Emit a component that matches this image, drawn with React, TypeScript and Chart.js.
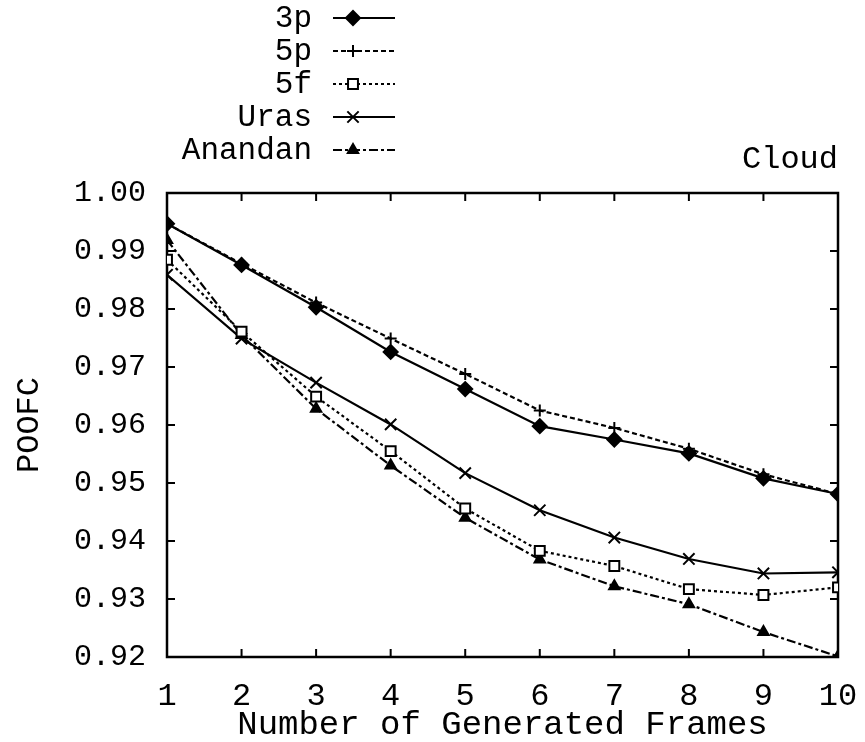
import React, { useEffect, useRef } from 'react';
import { Chart, registerables } from 'chart.js';
import { drawPoint } from 'chart.js/helpers';

Chart.register(...registerables);

const FONT = "'Liberation Mono', 'DejaVu Sans Mono', monospace";

const frames = [1, 2, 3, 4, 5, 6, 7, 8, 9, 10];
const yTickValues = [0.92, 0.93, 0.94, 0.95, 0.96, 0.97, 0.98, 0.99, 1.0];
const chartTitle = 'Cloud';
const xTitle = 'Number of Generated Frames';
const yTitle = 'POOFC';

const s3p = [0.9947, 0.9876, 0.9803, 0.9726, 0.9662, 0.9598, 0.9575, 0.9551, 0.9508, 0.9481];
const s5p = [0.9947, 0.9878, 0.9811, 0.9749, 0.9688, 0.9625, 0.9595, 0.9559, 0.9515, 0.9481];
const s5f = [0.9885, 0.9761, 0.9649, 0.9555, 0.9456, 0.9383, 0.9357, 0.9317, 0.9307, 0.9320];
const sUras = [0.9859, 0.9749, 0.9673, 0.9601, 0.9517, 0.9453, 0.9406, 0.9369, 0.9344, 0.9346];
const sAnandan = [0.9919, 0.9755, 0.9628, 0.9530, 0.9440, 0.9368, 0.9322, 0.9291, 0.9243, 0.9201];

const toPoints = (vals: number[]) => vals.map((v, i) => ({ x: frames[i], y: v }));

const framePlugin = {
  id: 'frameTicks',
  beforeDatasetsDraw(chart: any) {
    const { ctx, chartArea, scales } = chart;
    const { left, right, top, bottom } = chartArea;
    const x = scales.x;
    const y = scales.y;
    ctx.save();
    ctx.strokeStyle = '#000';
    ctx.setLineDash([]);
    ctx.lineWidth = 2.5;
    ctx.strokeRect(left, top, right - left, bottom - top);
    const tl = 8;
    ctx.lineWidth = 2;
    ctx.beginPath();
    for (const v of frames) {
      const px = x.getPixelForValue(v);
      ctx.moveTo(px, bottom);
      ctx.lineTo(px, bottom - tl);
      ctx.moveTo(px, top);
      ctx.lineTo(px, top + tl);
    }
    for (const v of yTickValues) {
      const py = y.getPixelForValue(v);
      ctx.moveTo(left, py);
      ctx.lineTo(left + tl, py);
      ctx.moveTo(right, py);
      ctx.lineTo(right - tl, py);
    }
    ctx.stroke();
    ctx.restore();
  },
};

const legendPlugin = {
  id: 'sideLegend',
  afterDraw(chart: any) {
    const ctx = chart.ctx;
    const textRight = 312;
    const lineStart = 333;
    const lineEnd = 395;
    const markX = 353;
    const y0 = 18;
    const dy = 33;
    ctx.save();
    chart.data.datasets.forEach((ds: any, i: number) => {
      const yy = y0 + i * dy;
      ctx.font = `31px ${FONT}`;
      ctx.textAlign = 'right';
      ctx.textBaseline = 'middle';
      ctx.fillStyle = '#000';
      ctx.fillText(ds.label, textRight, yy + 1);
      ctx.strokeStyle = ds.borderColor;
      ctx.lineWidth = ds.borderWidth;
      ctx.setLineDash(ds.borderDash || []);
      ctx.beginPath();
      ctx.moveTo(lineStart, yy);
      ctx.lineTo(lineEnd, yy);
      ctx.stroke();
      ctx.setLineDash([]);
      ctx.fillStyle = ds.pointBackgroundColor;
      ctx.strokeStyle = ds.pointBorderColor;
      ctx.lineWidth = ds.pointBorderWidth;
      drawPoint(
        ctx,
        { pointStyle: ds.pointStyle, radius: ds.pointRadius, borderWidth: ds.pointBorderWidth, rotation: 0 } as any,
        markX,
        yy
      );
    });
    ctx.restore();
  },
};

function makeDataset(label: string, vals: number[], dash: number[], style: string, radius: number, fill: string) {
  return {
    label,
    data: toPoints(vals),
    borderColor: '#000',
    borderWidth: 2.2,
    borderDash: dash,
    pointStyle: style,
    pointRadius: radius,
    pointBackgroundColor: fill,
    pointBorderColor: '#000',
    pointBorderWidth: 2,
    tension: 0,
    fill: false,
  };
}

export default function App() {
  const ref = useRef<HTMLCanvasElement | null>(null);

  useEffect(() => {
    document.body.style.margin = '0';
    if (!ref.current) return;
    const chart = new Chart(ref.current, {
      type: 'line',
      data: {
        datasets: [
          makeDataset('3p', s3p, [], 'rectRot', 7, '#000'),
          makeDataset('5p', s5p, [5, 3], 'cross', 6, '#000'),
          makeDataset('5f', s5f, [3, 3], 'rect', 7, '#fff'),
          makeDataset('Uras', sUras, [], 'crossRot', 8, '#000'),
          makeDataset('Anandan', sAnandan, [9, 3, 3, 3], 'triangle', 6, '#000'),
        ] as any,
      },
      options: {
        animation: false,
        responsive: false,
        maintainAspectRatio: false,
        layout: { autoPadding: false, padding: { top: 140, right: 27, bottom: 0, left: 0 } },
        plugins: {
          legend: { display: false },
          tooltip: { enabled: false },
          title: {
            display: true,
            text: chartTitle,
            align: 'end',
            color: '#000',
            font: { family: FONT, size: 32, weight: 'normal' },
            padding: { top: 0, bottom: 14.6 },
          },
        },
        scales: {
          x: {
            type: 'linear',
            min: 1,
            max: 10,
            afterBuildTicks: (scale: any) => {
              scale.ticks = frames.map((v) => ({ value: v }));
            },
            afterFit: (scale: any) => {
              scale.height = 85;
              scale.paddingLeft = 0;
              scale.paddingRight = 0;
            },
            grid: { display: false, drawTicks: false },
            border: { display: false },
            ticks: {
              color: '#000',
              font: { family: FONT, size: 32 },
              padding: 20,
              maxRotation: 0,
              autoSkip: false,
              callback: (v: any) => String(v),
            },
            title: {
              display: true,
              text: xTitle,
              color: '#000',
              font: { family: FONT, size: 34, lineHeight: 1 },
              padding: { top: 0, bottom: 0 },
            },
          },
          y: {
            type: 'linear',
            min: 0.92,
            max: 1.0,
            afterBuildTicks: (scale: any) => {
              scale.ticks = yTickValues.map((v) => ({ value: v }));
            },
            afterFit: (scale: any) => {
              scale.width = 167;
              scale.paddingTop = 0;
              scale.paddingBottom = 0;
            },
            grid: { display: false, drawTicks: false },
            border: { display: false },
            ticks: {
              color: '#000',
              font: { family: FONT, size: 30 },
              padding: 21,
              autoSkip: false,
              callback: (v: any) => Number(v).toFixed(2),
            },
            title: {
              display: true,
              text: yTitle,
              color: '#000',
              font: { family: FONT, size: 32 },
              padding: { top: 10, bottom: 0 },
            },
          },
        },
      },
      plugins: [framePlugin, legendPlugin],
    });
    return () => chart.destroy();
  }, []);

  return (
    <div style={{ width: 865, height: 742, background: '#fff' }}>
      <canvas ref={ref} width={865} height={742} style={{ display: 'block' }} />
    </div>
  );
}
